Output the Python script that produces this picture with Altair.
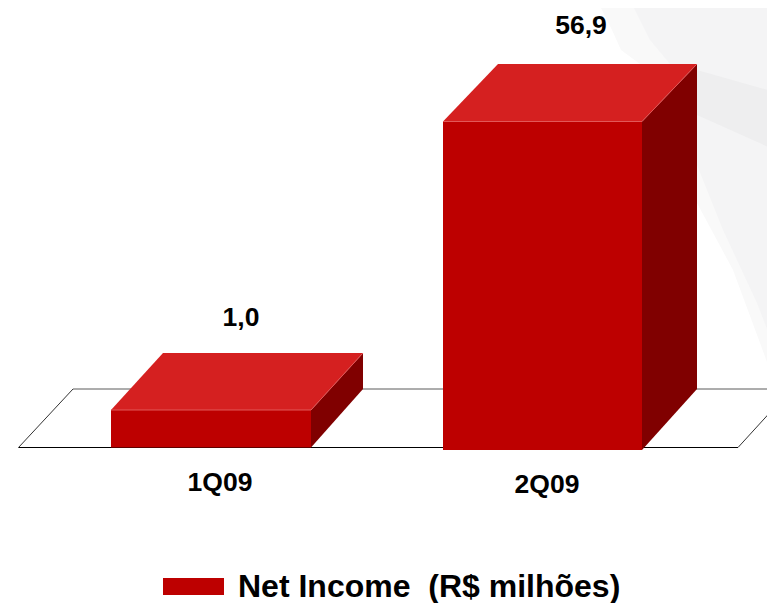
import altair as alt
import pandas as pd

# Values
categories = ["1Q09", "2Q09"]
values = [1.0, 56.9]
series_name = "Net Income \u00a0(R$ milhões)"

# Picture geometry (page pixels)
bar_left = [111, 443]
bar_right = [311, 642]
bar_top = [410, 121.5]
bar_bottom = [447.5, 450]
depth_x = [52, 55]
depth_y = [57, 57.5]
back_bottom = [389, 389]
value_label_x = [241, 581]
value_label_y = [318, 26]
cat_label_x = [220, 547]
cat_label_y = [483, 485]

floor_front_y, floor_back_y = 447.5, 389
floor_front_l, floor_front_r = 18.5, 738
floor_back_l, floor_back_r = 73, 775

outer_y = [0, 30, 50, 64, 140, 203, 270, 370, 385]
outer_xl = [597, 612, 621, 640, 697, 697, 733, 770, 775]
inner_y = [0, 40, 64, 165, 230, 303, 350]
inner_xl = [630, 650, 670, 697, 723, 757, 775]
band_y = [70, 92, 115, 150]
band_xl = [697, 697, 697, 775]
band_xr = [697, 775, 775, 775]

W, H = 759, 595
X = alt.X("x:Q", axis=None, scale=alt.Scale(domain=[8, 767], range=[0, W]))
Y = alt.Y("y:Q", axis=None, scale=alt.Scale(domain=[8, 603], range=[0, H]))
FONT = "Liberation Sans"

outer = pd.DataFrame({"y": outer_y, "x": outer_xl, "x2": [775] * len(outer_y)})
inner = pd.DataFrame({"y": inner_y, "x": inner_xl, "x2": [775] * len(inner_y)})
band = pd.DataFrame({"y": band_y, "x": band_xl, "x2": band_xr})

floor_df = pd.DataFrame({
    "y": [floor_back_y, floor_front_y],
    "x": [floor_back_l, floor_front_l],
    "x2": [floor_back_r + 20, floor_front_r],
})
floor_lines = pd.DataFrame([
    dict(x=floor_back_l, x2=floor_back_r, y=floor_back_y, y2=floor_back_y, c="#5a5a5a"),
    dict(x=floor_front_l, x2=floor_front_r, y=floor_front_y, y2=floor_front_y, c="#000000"),
    dict(x=floor_front_l, x2=floor_back_l, y=floor_front_y, y2=floor_back_y, c="#333333"),
    dict(x=floor_front_r, x2=floor_back_r, y=floor_front_y, y2=407, c="#333333"),
])

front, top, side, edges = [], [], [], []
for i, cat in enumerate(categories):
    l, r, t, b = bar_left[i], bar_right[i], bar_top[i], bar_bottom[i]
    dx, dy = depth_x[i], depth_y[i]
    front.append(dict(x=l, x2=r, y=t, y2=b, s=series_name))
    top += [dict(cat=cat, y=t - dy, x=l + dx, x2=r + dx), dict(cat=cat, y=t, x=l, x2=r)]
    side += [dict(cat=cat, x=r, y=t, y2=b), dict(cat=cat, x=r + dx, y=t - dy, y2=back_bottom[i])]
    edges += [dict(x=l, x2=r, y=t, y2=t), dict(x=r, x2=r + dx, y=t, y2=t - dy)]

front, top, side, edges = map(pd.DataFrame, (front, top, side, edges))

labels_v = pd.DataFrame({"x": value_label_x, "y": value_label_y,
                         "t": [f"{v:.1f}".replace(".", ",") for v in values]})
labels_c = pd.DataFrame({"x": cat_label_x, "y": cat_label_y, "t": categories})

layers = [
    alt.Chart(outer).mark_area(orient="horizontal", color="#f9f9f9").encode(
        y=Y, x=X, x2="x2:Q"),
    alt.Chart(inner).mark_area(orient="horizontal", color="#f4f4f5").encode(
        y=Y, x=X, x2="x2:Q"),
    alt.Chart(band).mark_area(orient="horizontal", color="#eeeeef").encode(
        y=Y, x=X, x2="x2:Q"),
    alt.Chart(floor_df).mark_area(orient="horizontal", color="#ffffff").encode(
        y=Y, x=X, x2="x2:Q"),
    alt.Chart(floor_lines).mark_rule(strokeWidth=1).encode(
        x=X, x2="x2:Q", y=Y, y2="y2:Q",
        color=alt.Color("c:N", scale=None, legend=None)),
    alt.Chart(top).mark_area(orient="horizontal", color="#d52020").encode(
        y=Y, x=X, x2="x2:Q", detail="cat:N"),
    alt.Chart(side).mark_area(orient="vertical", color="#800000").encode(
        x=X, y=Y, y2="y2:Q", detail="cat:N"),
    alt.Chart(front).mark_rect().encode(
        x=X, x2="x2:Q", y=Y, y2="y2:Q",
        color=alt.Color("s:N", scale=alt.Scale(domain=[series_name], range=["#bd0000"]),
                        legend=alt.Legend(
                            title=None, orient="none", legendX=155, legendY=548,
                            symbolType="M-1,-0.28H1V0.28H-1Z", symbolSize=3721,
                            symbolStrokeWidth=0, symbolOpacity=1,
                            labelFont=FONT, labelFontWeight="bold", labelFontSize=32,
                            labelColor="#000000", labelLimit=600, labelOffset=14))),
    alt.Chart(edges).mark_rule(color="#e25858", strokeWidth=1).encode(
        x=X, x2="x2:Q", y=Y, y2="y2:Q"),
    alt.Chart(labels_v).mark_text(font=FONT, fontWeight="bold", fontSize=26.5, color="#000000",
                                  align="center", baseline="middle").encode(
        x=X, y=Y, text="t:N"),
    alt.Chart(labels_c).mark_text(font=FONT, fontWeight="bold", fontSize=26.5, color="#000000",
                                  align="center", baseline="middle").encode(
        x=X, y=Y, text="t:N"),
]

chart = alt.layer(*layers).resolve_scale(color="independent").properties(
    width=W, height=H, padding=0, autosize=alt.AutoSizeParams(type="none"),
    background="#ffffff",
).configure_view(strokeWidth=0)

chart.save("out.html", embed_options={"renderer": "svg", "actions": False})
